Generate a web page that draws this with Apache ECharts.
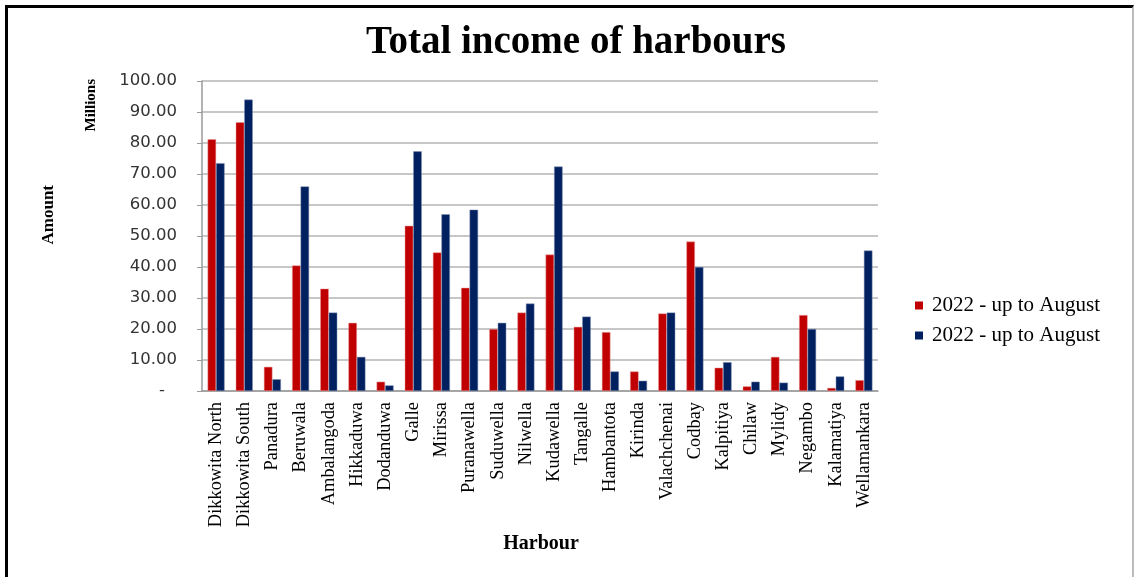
<!DOCTYPE html>
<html>
<head>
<meta charset="utf-8">
<script src="https://cdn.jsdelivr.net/npm/echarts@6/dist/echarts.min.js"></script>
<style>
html,body{margin:0;padding:0;background:#fff;}
#frame{position:absolute;left:5px;top:5px;width:1129px;height:600px;border-top:3px solid #000;border-left:3px solid #000;border-right:2px solid #bdbdbd;box-sizing:border-box;}
#chart{position:absolute;left:0;top:0;width:1134px;height:577px;}
</style>
</head>
<body>
<div id="frame"></div>
<div id="chart"></div>
<script>
const categories = ['Dikkowita North','Dikkowita South','Panadura','Beruwala','Ambalangoda','Hikkaduwa','Dodanduwa','Galle','Mirissa','Puranawella','Suduwella','Nilwella','Kudawella','Tangalle','Hambantota','Kirinda','Valachchenai','Codbay','Kalpitiya','Chilaw','Mylidy','Negambo','Kalamatiya','Wellamankara'];
const seriesRed = [81.2, 86.7, 7.8, 40.5, 33.0, 22.0, 3.0, 53.3, 44.7, 33.3, 20.0, 25.3, 44.0, 20.7, 19.0, 6.3, 25.0, 48.2, 7.5, 1.5, 11.0, 24.5, 1.0, 3.5];
const seriesBlue = [73.5, 94.0, 3.8, 66.0, 25.3, 11.0, 1.8, 77.3, 57.0, 58.5, 22.0, 28.2, 72.4, 24.0, 6.3, 3.3, 25.3, 40.0, 9.3, 3.0, 2.7, 20.0, 4.7, 45.3];
const legendLabels = ['2022 - up to August', '2022 - up to August'];
const titleText = 'Total income of harbours';

const serif = '"Liberation Serif", "DejaVu Serif", serif';
const sans = '"DejaVu Sans", sans-serif';
const chart = echarts.init(document.getElementById('chart'));
chart.setOption({
  animation: false,
  title: {
    text: titleText, left: 361, top: 18,
    textStyle: {fontFamily: serif, fontWeight: 'bold', fontSize: 39, color: '#000'}
  },
  legend: {
    orient: 'vertical', left: 910, top: 290, itemWidth: 8, itemHeight: 8, itemGap: 9,
    icon: 'rect',
    itemStyle: {borderWidth: 0},
    data: ['s1', 's2'],
    formatter: function (n) { return n === 's1' ? legendLabels[0] : legendLabels[1]; },
    textStyle: {fontFamily: serif, fontSize: 21, color: '#000', padding: [0, 0, 0, 4]}
  },
  grid: {left: 202, right: 256, top: 81, bottom: 186, containLabel: false},
  graphic: [
    {type: 'text', left: 40, top: 185, rotation: Math.PI / 2,
     style: {text: 'Amount', font: 'bold 17px ' + serif, fill: '#000'}},
    {type: 'text', left: 84, top: 79, rotation: Math.PI / 2,
     style: {text: 'Millions', font: 'bold 15px ' + serif, fill: '#000'}},
    {type: 'text', x: 541, y: 534,
     style: {text: 'Harbour', font: 'bold 20px ' + serif, fill: '#000', textAlign: 'center'}}
  ],
  xAxis: {
    type: 'category', data: categories,
    axisLine: {lineStyle: {color: '#9a9a9a', width: 1.5}},
    axisTick: {show: false},
    axisLabel: {rotate: 90, interval: 0, margin: 11, fontFamily: serif, fontSize: 18.4, color: '#000'}
  },
  yAxis: {
    type: 'value', min: 0, max: 100, interval: 10,
    axisLine: {show: true, lineStyle: {color: '#9a9a9a', width: 1.5}},
    axisTick: {show: true, length: 5, lineStyle: {color: '#9a9a9a'}},
    splitLine: {lineStyle: {color: '#b4b4b4', width: 1.5}},
    axisLabel: {
      margin: 25, fontFamily: sans, fontSize: 16.5, color: '#333',
      formatter: function (v) { return v === 0 ? '{z|-}' : v.toFixed(2); },
      rich: {z: {padding: [0, 12, 0, 0], fontSize: 16.5, fontFamily: sans, color: '#333'}}
    }
  },
  series: [
    {name: 's1', type: 'bar', data: seriesRed, barWidth: 8.5, barGap: '0%',
     itemStyle: {color: '#C00000', borderColor: '#e89a9a', borderWidth: 0.5}},
    {name: 's2', type: 'bar', data: seriesBlue, barWidth: 8.5,
     itemStyle: {color: '#002060', borderColor: '#8090b0', borderWidth: 0.5}}
  ]
});
</script>
</body>
</html>
